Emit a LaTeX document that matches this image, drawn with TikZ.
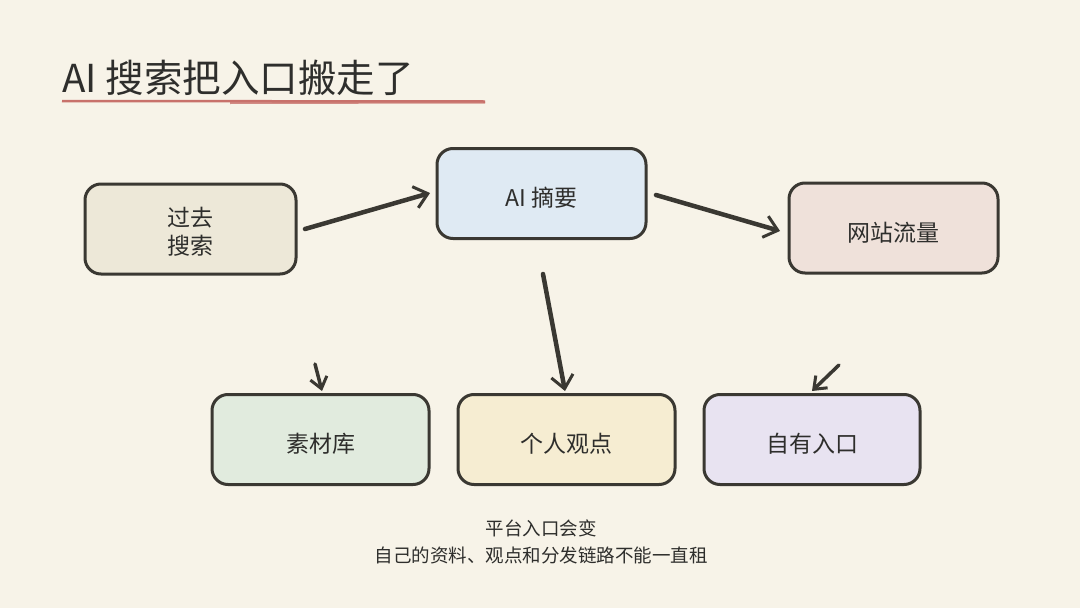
\documentclass[tikz,border=0pt]{standalone}
\usepackage{fontspec}
\setmainfont{Noto Sans CJK SC}
\usetikzlibrary{arrows.meta}
\definecolor{bg}{HTML}{F7F3E8}
\definecolor{ink}{HTML}{3A3832}
\definecolor{txt}{HTML}{2E2E2C}
\definecolor{ured}{HTML}{C8716B}
\definecolor{fA}{HTML}{EDE8D8}
\definecolor{fB}{HTML}{DFEAF3}
\definecolor{fC}{HTML}{EFE1DA}
\definecolor{fD}{HTML}{E1EBDE}
\definecolor{fE}{HTML}{F6EDD2}
\definecolor{fF}{HTML}{E8E3F1}
\tikzset{
  box/.style={draw=ink, line width=3pt, rounded corners=16pt, minimum width=211pt, minimum height=90pt, inner sep=0pt, align=center, text=txt, font=\fontsize{23}{28}\selectfont, text height=28.5pt},
  arr/.style={draw=ink, line width=4.5pt, line cap=round, -{Straight Barb[length=13pt,width=22pt,line width=3pt]}},
  sarr/.style={draw=ink, line width=3.5pt, line cap=round, -{Straight Barb[length=11pt,width=17pt,line width=3pt]}}
}
\begin{document}
\begin{tikzpicture}[x=1pt,y=-1pt]
\fill[bg] (0,0) rectangle (1080,608);
\useasboundingbox (0,0) rectangle (1080,608);
% title
\node[anchor=base west, inner sep=0pt, text=txt, font=\fontsize{38.5}{40}\selectfont] (title) at (62,92) {AI 搜索把入口搬走了};
\draw[ured, line width=2.5pt] (62,101) -- (485,101.5);
\draw[ured, line width=2pt, opacity=0.8] (230,103) -- (485,102.5);
% boxes
\node[box, fill=fA, minimum width=211pt, text height=53.5pt] (past) at (190.5,229) {过去\\搜索};
\node[box, fill=fB, minimum width=209pt] (ai) at (541.5,193.5) {AI 摘要};
\node[box, fill=fC, minimum width=209pt] (web) at (893.5,228) {网站流量};
\node[box, fill=fD, minimum width=217pt] (mat) at (320.5,439.5) {素材库};
\node[box, fill=fE, minimum width=217pt] (view) at (566.5,439.5) {个人观点};
\node[box, fill=fF, minimum width=216pt] (own) at (812,439.5) {自有入口};
% arrow endpoints
\coordinate (a1s) at (305,229);
\coordinate (a1e) at (430,193);
\coordinate (a2s) at (656,195);
\coordinate (a2e) at (780,231);
\coordinate (a3s) at (543,274);
\coordinate (a3e) at (565,391);
\coordinate (a4s) at (315,364);
\coordinate (a4e) at (322,391);
\coordinate (a5s) at (839,365);
\coordinate (a5e) at (812,391);
\draw[arr] (a1s) -- (a1e);
\draw[arr] (a2s) -- (a2e);
\draw[arr] (a3s) -- (a3e);
\draw[sarr] (a4s) -- (a4e);
\draw[sarr] (a5s) -- (a5e);
% bottom text
\node[align=center, text=txt, font=\fontsize{18.5}{27}\selectfont, anchor=center] (note) at (541,542) {平台入口会变\\自己的资料、观点和分发链路不能一直租};
\end{tikzpicture}
\end{document}
